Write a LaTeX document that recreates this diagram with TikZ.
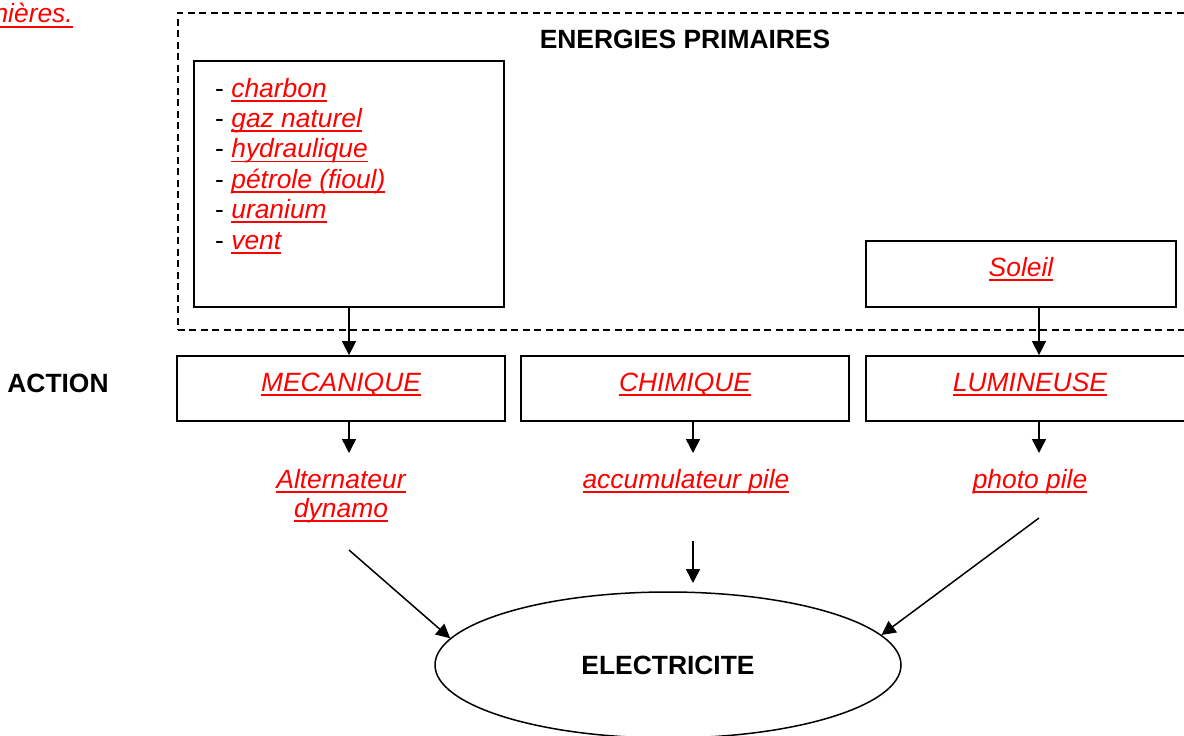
\documentclass[tikz,border=0pt]{standalone}
\usepackage{fontspec}
\setmainfont{Liberation Sans}
\usetikzlibrary{arrows.meta,shapes.geometric}
\newsavebox\rubox
\newcommand\ru[1]{\sbox\rubox{#1}\rlap{\rule[-4.6pt]{\wd\rubox}{1.8pt}}\usebox\rubox}
\tikzset{
  boxnode/.style={draw, rectangle, line width=1.8pt, inner sep=0pt},
  redlbl/.style={text=red, font=\itshape, inner sep=0pt, anchor=base},
  boldlbl/.style={font=\bfseries, inner sep=0pt, anchor=base},
  listline/.style={text=red, font=\itshape, inner sep=0pt, anchor=base west},
  arr/.style={-{Triangle[length=14pt,width=14pt]}, line width=1.5pt},
}
\begin{document}
\fontsize{26.4}{30.4}\selectfont
\begin{tikzpicture}[x=1pt,y=-1pt]
\useasboundingbox (0,0) rectangle (1184,736);
\clip (0,0) rectangle (1184,736);
% dashed frame
\node[draw, rectangle, line width=1.5pt, dash pattern=on 7pt off 4.5pt, minimum width=1023pt, minimum height=317pt, inner sep=0pt, anchor=north west] (prim) at (177,12) {};
\node[redlbl, anchor=base east] (top) at (73,23) {\ru{nières.}};
\node[boldlbl] (ep) at (685,48) {ENERGIES PRIMAIRES};
% list box
\node[boxnode, minimum width=310pt, minimum height=246pt] (listbox) at (349,184) {};
\node[listline] (l1) at (215,97) {{\color{black}\upshape -} \ru{charbon}};
\node[listline] (l2) at (215,127.4) {{\color{black}\upshape -} \ru{gaz naturel}};
\node[listline] (l3) at (215,157.8) {{\color{black}\upshape -} \ru{hydraulique}};
\node[listline] (l4) at (215,188.2) {{\color{black}\upshape -} \ru{pétrole (fioul)}};
\node[listline] (l5) at (215,218.6) {{\color{black}\upshape -} \ru{uranium}};
\node[listline] (l6) at (215,249) {{\color{black}\upshape -} \ru{vent}};
% soleil
\node[boxnode, minimum width=310pt, minimum height=66pt] (soleil) at (1021,274) {};
\node[redlbl] (soleilt) at (1021,276) {\ru{Soleil}};
% action row
\node[boldlbl] (action) at (58,392) {ACTION};
\node[boxnode, minimum width=328pt, minimum height=65pt] (mec) at (341,388.5) {};
\node[boxnode, minimum width=328pt, minimum height=65pt] (chi) at (685,388.5) {};
\node[boxnode, minimum width=328pt, minimum height=65pt] (lum) at (1030,388.5) {};
\node[redlbl] (mect) at (341,391) {\ru{MECANIQUE}};
\node[redlbl] (chit) at (685,391) {\ru{CHIMIQUE}};
\node[redlbl] (lumt) at (1030,391) {\ru{LUMINEUSE}};
% devices
\node[redlbl] (alt1) at (341,488) {\ru{Alternateur}};
\node[redlbl] (alt2) at (341,517.5) {\ru{dynamo}};
\node[redlbl] (acc) at (686,488) {\ru{accumulateur pile}};
\node[redlbl] (pho) at (1030,488) {\ru{photo pile}};
% electricite
\node[draw, ellipse, line width=1.5pt, minimum width=466pt, minimum height=146pt, inner sep=0pt, font=\bfseries] (elec) at (668,665) {ELECTRICITE};
% coordinates
\coordinate (xa) at (349,0);
\coordinate (xb) at (693,0);
\coordinate (xc) at (1039,0);
\coordinate (e1) at (349,453);
\coordinate (e2) at (693,453);
\coordinate (e3) at (1039,453);
\coordinate (s1) at (349,550);
\coordinate (s2) at (693,541);
\coordinate (t2) at (693,583);
\coordinate (s3) at (1039,518);
% arrows
\draw[arr] (listbox.south -| xa) -- (mec.north -| xa);
\draw[arr] (soleil.south -| xc) -- (lum.north -| xc);
\draw[arr] (mec.south -| xa) -- (e1);
\draw[arr] (chi.south -| xb) -- (e2);
\draw[arr] (lum.south -| xc) -- (e3);
\draw[arr] (s1) -- (elec.173);
\draw[arr] (s2) -- (t2);
\draw[arr] (s3) -- (elec.8.7);
\end{tikzpicture}
\end{document}
